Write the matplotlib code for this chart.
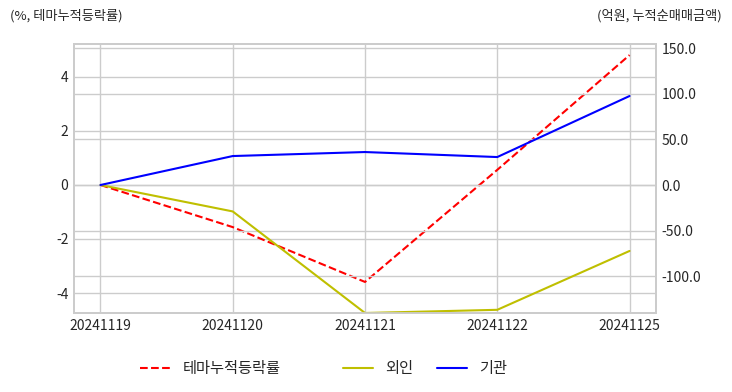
import numpy as np
import matplotlib
matplotlib.use("Agg")
import matplotlib.pyplot as plt
import seaborn as sns

# 데이터
dates = ['20241119', '20241120', '20241121', '20241122', '20241125']
theme_rate = [0.0, -1.56, -3.59, 0.56, 4.81]      # %, 테마누적등락률
foreign = [0.0, -29.0, -140.5, -137.0, -72.4]     # 억원, 외인
institution = [0.0, 31.8, 36.2, 30.7, 97.7]       # 억원, 기관

sns.set_style('whitegrid')
plt.rcParams['font.family'] = ['Noto Sans CJK KR', 'DejaVu Sans']
plt.rcParams['axes.unicode_minus'] = False

fig, ax = plt.subplots(figsize=(7.32, 3.92), dpi=100)
fig.subplots_adjust(left=74/732, right=656/732, top=1-44/392, bottom=1-313/392)
ax2 = ax.twinx()

x = np.arange(len(dates))
l1, = ax.plot(x, theme_rate, color='red', linestyle='--', linewidth=1.5, label='테마누적등락률')
l2, = ax2.plot(x, foreign, color='y', linewidth=1.5, label='외인')
l3, = ax2.plot(x, institution, color='b', linewidth=1.5, label='기관')

ax.set_xticks(x)
ax.set_xticklabels(dates)
ax.set_ylim(-4.74, 5.22)
ax.set_yticks([-4, -2, 0, 2, 4])
ax2.set_ylim(-140.5, 154.8)
ax2.set_yticks([-100, -50, 0, 50, 100, 150])
ax2.set_yticklabels([f'{v:.1f}' for v in [-100, -50, 0, 50, 100, 150]])

for a in (ax, ax2):
    a.tick_params(axis='both', labelsize=10, colors='.15', length=0, pad=4)
    a.grid(True, color='.8', linewidth=1)
    for s in a.spines.values():
        s.set_color('.8')
        s.set_linewidth(1.25)

fig.text(10/732, 1-16/392, '(%, 테마누적등락률)', fontsize=9.5, color='.15', ha='left', va='center')
fig.text(722/732, 1-16/392, '(억원, 누적순매매금액)', fontsize=9.5, color='.15', ha='right', va='center')

# 범례 (하단, 항목별 위치)
for line, label, xpos in [(l1, '테마누적등락률', 126), (l2, '외인', 329), (l3, '기관', 423)]:
    leg = fig.legend([line], [label], loc='center left',
                     bbox_to_anchor=(xpos/732, 1-369/392), frameon=False, fontsize=11)

fig.savefig('out.png', dpi=100)
